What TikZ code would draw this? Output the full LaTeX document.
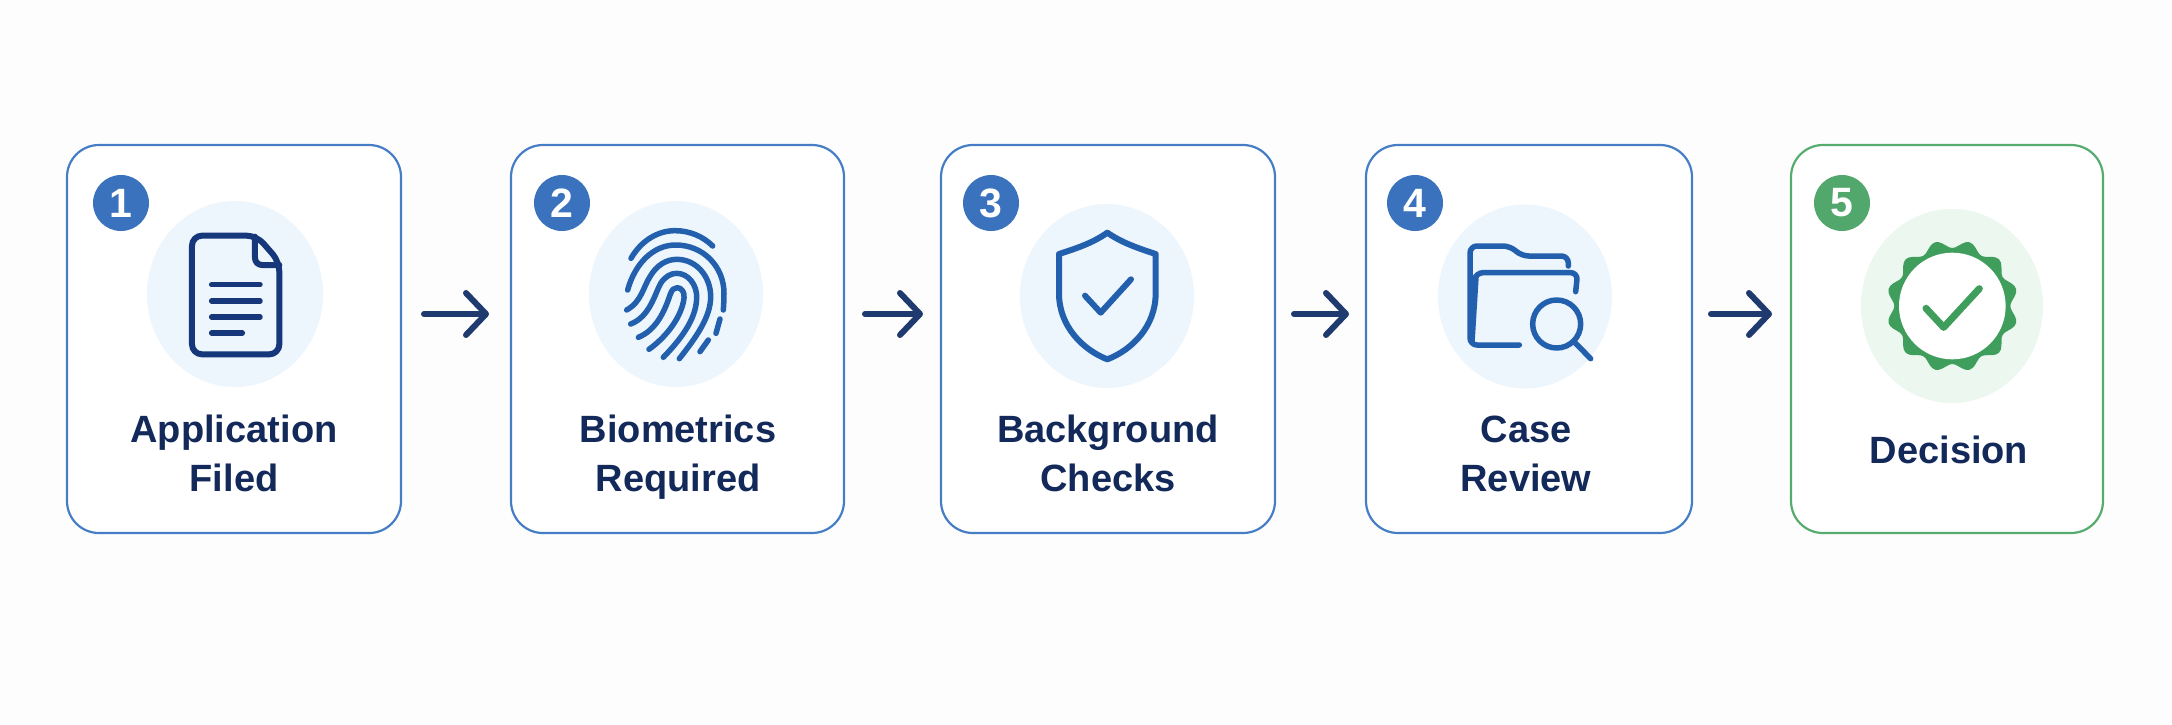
\documentclass[tikz,border=0pt]{standalone}
\usepackage{fontspec}
\setmainfont{Liberation Sans}
\usetikzlibrary{arrows.meta,shapes.geometric}
\definecolor{pagebg}{HTML}{FDFDFE}
\definecolor{cardblue}{HTML}{467EC6}
\definecolor{cardgreen}{HTML}{56AC6E}
\definecolor{badgeblue}{HTML}{3A72BD}
\definecolor{badgegreen}{HTML}{52A86C}
\definecolor{discblue}{HTML}{EDF5FD}
\definecolor{discgreen}{HTML}{ECF7F0}
\definecolor{navy}{HTML}{12295A}
\definecolor{arrownavy}{HTML}{1F3A6E}
\definecolor{docnavy}{HTML}{16387A}
\definecolor{iconblue}{HTML}{2260AE}
\definecolor{sealgreen}{HTML}{409E5C}
\tikzset{
	card/.style={draw=cardblue,line width=2.2pt,rounded corners=32pt,fill=white,minimum height=388pt,outer sep=0pt},
	badge/.style={circle,fill=badgeblue,text=white,minimum size=56pt,inner sep=0pt,font=\bfseries\fontsize{41}{41}\selectfont},
	disc/.style={ellipse,fill=discblue,inner sep=0pt},
	steptext/.style={text=navy,align=center,anchor=base,inner sep=0pt,font=\bfseries\fontsize{38}{49}\selectfont},
	flow/.style={draw=arrownavy,line width=6pt,line cap=round,-{Straight Barb[round,length=20pt,width=42pt,line width=6pt]}},
	icon/.style={line width=6pt,line cap=round,line join=round}
}
\begin{document}
\begin{tikzpicture}[x=1pt,y=-1pt]
	\useasboundingbox (0,0) rectangle (2172,724);
	\fill[pagebg] (0,0) rectangle (2172,724);
	\node[card,minimum width=334pt] (card1) at (234,339) {};
	\node[card,minimum width=333pt] (card2) at (677.5,339) {};
	\node[card,minimum width=334pt] (card3) at (1108,339) {};
	\node[card,minimum width=326pt] (card4) at (1529,339) {};
	\node[card,draw=cardgreen,minimum width=312pt] (card5) at (1947,339) {};
	\node[badge] (badge1) at (121,203) {1};
	\node[badge] (badge2) at (562,203) {2};
	\node[badge] (badge3) at (991,203) {3};
	\node[badge] (badge4) at (1415,203) {4};
	\node[badge,fill=badgegreen] (badge5) at (1842,203) {5};
	\node[disc,minimum width=176pt,minimum height=186pt] (disc1) at (235,294) {};
	\node[disc,minimum width=174pt,minimum height=186pt] (disc2) at (676,294) {};
	\node[disc,minimum width=174pt,minimum height=184pt] (disc3) at (1107,296) {};
	\node[disc,minimum width=174pt,minimum height=184pt] (disc4) at (1525,296.5) {};
	\node[disc,fill=discgreen,minimum width=182pt,minimum height=194pt] (disc5) at (1952,306) {};
	\node[steptext] (text1) at (234,491) {Application\\Filed};
	\node[steptext] (text2) at (678,491) {Biometrics\\Required};
	\node[steptext] (text3) at (1108,491) {Background\\Checks};
	\node[steptext] (text4) at (1526,491) {Case\\Review};
	\node[steptext] (text5) at (1949,463) {Decision};
	\draw[flow] ([xshift=23pt,yshift=25pt]card1.east) -- ([xshift=-22pt,yshift=25pt]card2.west);
	\draw[flow] ([xshift=21pt,yshift=25pt]card2.east) -- ([xshift=-18pt,yshift=25pt]card3.west);
	\draw[flow] ([xshift=19pt,yshift=25pt]card3.east) -- ([xshift=-17pt,yshift=25pt]card4.west);
	\draw[flow] ([xshift=19pt,yshift=25pt]card4.east) -- ([xshift=-19pt,yshift=25pt]card5.west);
	% document
	\begin{scope}[shift={(40,120)},scale=1/3,icon,draw=docnavy]
		\draw[rounded corners=10pt] (650,347) -- (456,347) -- (456,703) -- (718,703) -- (718,425) -- cycle;
		\draw[rounded corners=7pt] (645,350) -- (645,435) -- (718,435);
		\draw[line width=5.5pt] (515,494) -- (660,494) (515,543) -- (660,543) (515,591) -- (660,591) (515,639) -- (607,639);
	\end{scope}
	% fingerprint
	\begin{scope}[shift={(500,120)},scale=1/3,icon,line width=5.5pt,draw=iconblue]
		\draw (393,415) .. controls (425,360) and (475,332) .. (525,332) .. controls (570,332) and (610,350) .. (638,378);
		\draw (383,510) .. controls (405,430) and (460,375) .. (527,375) .. controls (610,375) and (672,440) .. (672,520) .. controls (672,540) and (671,555) .. (670,570);
		\draw (380,570) .. controls (425,545) and (430,500) .. (450,470) .. controls (470,435) and (500,418) .. (530,418) .. controls (590,418) and (632,470) .. (632,530) .. controls (632,590) and (590,650) .. (538,716);
		\draw (392,612) .. controls (450,590) and (465,520) .. (482,490) .. controls (495,470) and (512,460) .. (530,460) .. controls (565,460) and (592,495) .. (590,535) .. controls (588,600) and (540,660) .. (490,712);
		\draw (415,652) .. controls (470,630) and (495,570) .. (510,525) .. controls (516,508) and (522,503) .. (532,503) .. controls (545,503) and (555,518) .. (552,535) .. controls (545,590) and (500,650) .. (447,688);
		\draw (660,597) -- (648,640) (625,660) -- (600,695);
	\end{scope}
	% shield
	\begin{scope}[shift={(930,120)},scale=1/3,icon,draw=iconblue]
		\draw (532,338) .. controls (490,368) and (440,385) .. (387,402) -- (387,520) .. controls (387,620) and (460,690) .. (532,718) .. controls (605,690) and (677,620) .. (677,520) -- (677,402) .. controls (625,385) and (575,368) .. cycle;
		\draw (465,527) -- (512,578) -- (603,478);
	\end{scope}
	% folder and lens
	\begin{scope}[shift={(1350,120)},scale=1/3,icon,line width=5.5pt,draw=iconblue]
		\draw[rounded corners=7pt] (655,438) -- (655,408) -- (515,408) -- (480,378) -- (360,378) -- (360,675) -- (508,675);
		\draw[rounded corners=7pt] (370,490) -- (378,458) -- (683,458) -- (677,515);
		\draw (378,470) -- (366,665);
		\draw (620,612) circle (72);
		\draw (672,665) -- (722,716);
	\end{scope}
	% seal
	\begin{scope}[shift={(1700,120)},scale=1/3]
		\fill[sealgreen] plot[smooth cycle,domain=0:357,samples=120] ({757+(186+12*cos(12*(\x-15)))*cos(\x)},{558-(186+12*cos(12*(\x-15)))*sin(\x)});
		\fill[white] (757,558) circle (160);
		\draw[icon,line width=7pt,draw=sealgreen] (678,565) -- (731,622) -- (838,506);
	\end{scope}
\end{tikzpicture}
\end{document}
